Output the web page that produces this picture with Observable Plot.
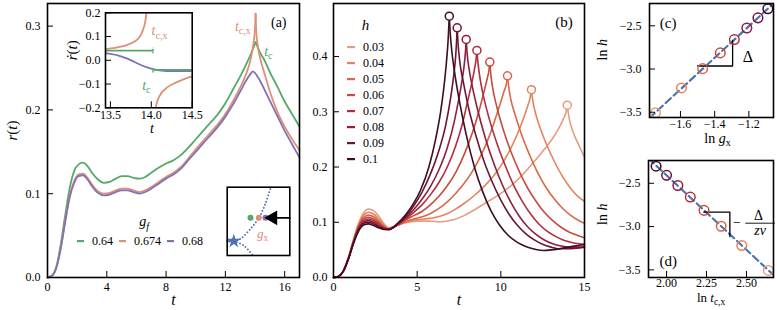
<!DOCTYPE html>
<html><head><meta charset="utf-8">
<script src="https://cdn.jsdelivr.net/npm/d3@7"></script>
<script src="https://cdn.jsdelivr.net/npm/@observablehq/plot@0.6"></script>
<style>
body{margin:0;background:#fff;}
#fig{position:relative;width:777px;height:310px;overflow:hidden;font-family:'Liberation Serif',serif;}
#fig > *{position:absolute;}
#fig svg text{font-family:'Liberation Serif','DejaVu Serif',serif;}
.lga-swatches,.lgb-swatches,#fig div,#fig span{font-family:'Liberation Serif',serif !important;font-size:12px !important;color:#000 !important;}
.lga-swatches,.lgb-swatches{min-height:0 !important;line-height:15px !important;margin:0 !important;}
.lga-swatch{margin-right:6px !important;}
.lga-swatch > svg{margin-right:8px !important;}
.lgb-swatch{padding-bottom:1px !important;}
.lgb-swatch > svg{margin-right:8px !important;}
</style></head><body><div id="fig"></div>
<script>
// ---------- data ----------
const gfLabels = ["0.64","0.674","0.68"];
const gfColors = ["#55a868","#dd8f78","#8172b3"];
const hLabels = ["0.03","0.04","0.05","0.06","0.07","0.08","0.09","0.1"];
const hValues = [0.03,0.04,0.05,0.06,0.07,0.08,0.09,0.1];
const hColors = ["#e59c80","#e3845f","#d96846","#c94a3b","#b02e3d","#8f1f3d","#6a1534","#3d0d22"];
const blueFit = "#4c72b0";

// panel (a): r(t) for g_f
const a064 = [[0,0],[0.3,0.002],[0.6,0.013],[0.9,0.04],[1.2,0.075],[1.5,0.107],[1.8,0.127],[2.1,0.135],[2.4,0.137],[2.7,0.133],[3.0,0.125],[3.4,0.117],[3.8,0.113],[4.2,0.114],[4.6,0.118],[5.0,0.121],[5.4,0.121],[5.8,0.119],[6.2,0.118],[6.6,0.12],[7.0,0.125],[7.5,0.131],[8.0,0.136],[8.5,0.14],[9.0,0.146],[9.5,0.155],[10.0,0.165],[10.5,0.175],[11.0,0.185],[11.5,0.195],[12.0,0.208],[12.5,0.224],[13.0,0.24],[13.5,0.258],[13.8,0.27],[14.04,0.281],[14.3,0.27],[14.7,0.257],[15.0,0.245],[15.5,0.228],[16.0,0.21],[16.5,0.195],[17.0,0.18]];
const a0674 = [[0,0],[0.3,0.002],[0.6,0.012],[0.9,0.036],[1.2,0.068],[1.5,0.097],[1.8,0.115],[2.1,0.123],[2.4,0.124],[2.7,0.119],[3.0,0.111],[3.4,0.103],[3.8,0.1],[4.2,0.101],[4.6,0.104],[5.0,0.106],[5.4,0.106],[5.8,0.104],[6.2,0.102],[6.6,0.104],[7.0,0.108],[7.5,0.114],[8.0,0.12],[8.5,0.125],[9.0,0.132],[9.5,0.142],[10.0,0.153],[10.5,0.163],[11.0,0.173],[11.5,0.183],[12.0,0.195],[12.5,0.21],[13.0,0.227],[13.4,0.243],[13.7,0.26],[13.9,0.28],[14.0,0.297],[14.04,0.315],[14.08,0.295],[14.2,0.275],[14.4,0.258],[14.7,0.24],[15.0,0.222],[15.5,0.198],[16.0,0.18],[16.5,0.165],[17.0,0.152]];
const a068 = [[0,0],[0.3,0.002],[0.6,0.012],[0.9,0.035],[1.2,0.067],[1.5,0.096],[1.8,0.113],[2.1,0.121],[2.4,0.122],[2.7,0.117],[3.0,0.109],[3.4,0.101],[3.8,0.098],[4.2,0.099],[4.6,0.102],[5.0,0.104],[5.4,0.104],[5.8,0.102],[6.2,0.1],[6.6,0.102],[7.0,0.106],[7.5,0.112],[8.0,0.118],[8.5,0.123],[9.0,0.13],[9.5,0.14],[10.0,0.15],[10.5,0.16],[11.0,0.17],[11.5,0.18],[12.0,0.192],[12.5,0.206],[13.0,0.222],[13.4,0.235],[13.7,0.243],[13.85,0.246],[14.0,0.244],[14.3,0.236],[14.7,0.222],[15.0,0.211],[15.5,0.193],[16.0,0.175],[16.5,0.159],[17.0,0.143]];
const aXTicks = [0,4,8,12,16];
const aYTicks = [0,0.1,0.2,0.3];

// panel (a) inset: dr/dt
const iSalmonA = [[13.44,0.047],[13.5,0.05],[13.6,0.055],[13.7,0.064],[13.8,0.08],[13.85,0.095],[13.88,0.112],[13.91,0.14],[13.93,0.17],[13.94,0.2],[13.95,0.23]];
const iSalmonB = [[14.045,-0.23],[14.055,-0.2],[14.07,-0.176],[14.11,-0.145],[14.2,-0.113],[14.3,-0.094],[14.4,-0.079],[14.5,-0.068]];
const iGreenA = [[13.44,0.041],[14.02,0.041]];
const iGreenB = [[14.02,-0.04],[14.5,-0.04]];
const iGreenMarks = [[14.02,0.028,0.054],[14.02,-0.053,-0.027]];
const iPurple = [[13.44,0.03],[13.5,0.027],[13.6,0.02],[13.7,0.008],[13.8,-0.008],[13.9,-0.024],[14.0,-0.035],[14.1,-0.042],[14.2,-0.045],[14.5,-0.045]];
const iXTicks = [13.5,14.0,14.5];
const iYTicks = [-0.2,-0.1,0,0.1,0.2];

// panel (a) schematic inset (unit box)
const schUpper = [[0.105,0.21],[0.212,0.245],[0.372,0.39],[0.505,0.55],[0.61,0.757],[0.69,0.977],[0.705,1.0]];
const schLower = [[0.105,0.21],[0.265,0.146],[0.4,0.01]];
const schDots = [[0.372,0.552],[0.505,0.552],[0.612,0.552]];
const schStar = [[0.105,0.21]];
const schArrow = [[0.74,0.552],[1.0,0.552]];
const schArrowHead = [[0.73,0.552]];
const schGray = [[0,0.21],[0.075,0.21]];
const schLabel = [{x:0.565,y:0.32,s:"*g*_{x}"}];

// panel (b): r(t) for h
const b003 = [[0,0],[0.3,0.002],[0.6,0.013],[0.9,0.037],[1.2,0.069],[1.5,0.098],[1.8,0.117],[2.1,0.124],[2.4,0.121],[2.7,0.111],[3.0,0.098],[3.3,0.09],[3.8,0.094],[4.3,0.099],[5.0,0.102],[5.7,0.102],[6.4,0.101],[7.1,0.104],[7.8,0.112],[8.5,0.124],[9.2,0.137],[9.9,0.15],[10.6,0.166],[11.3,0.186],[12.0,0.21],[12.6,0.232],[13.1,0.252],[13.5,0.272],[13.75,0.288],[13.9,0.3],[13.97,0.312],[14.05,0.294],[14.2,0.274],[14.4,0.257],[14.7,0.237],[15.0,0.218]];
const b004 = [[0,0],[0.3,0.002],[0.6,0.013],[0.9,0.037],[1.2,0.068],[1.5,0.096],[1.8,0.113],[2.1,0.118],[2.4,0.115],[2.7,0.106],[3.0,0.095],[3.3,0.089],[3.8,0.094],[4.3,0.1],[4.8,0.104],[5.4,0.106],[6.0,0.108],[6.6,0.113],[7.2,0.122],[7.8,0.134],[8.4,0.148],[9.0,0.165],[9.6,0.185],[10.2,0.212],[10.7,0.24],[11.1,0.268],[11.4,0.292],[11.6,0.31],[11.75,0.325],[11.83,0.34],[11.9,0.322],[12.05,0.3],[12.3,0.275],[12.7,0.243],[13.2,0.21],[13.7,0.182],[14.2,0.16],[14.6,0.147],[15.0,0.138]];
const b005 = [[0,0],[0.3,0.002],[0.6,0.013],[0.9,0.036],[1.2,0.067],[1.5,0.094],[1.8,0.109],[2.1,0.113],[2.4,0.11],[2.7,0.102],[3.0,0.093],[3.3,0.088],[3.8,0.094],[4.3,0.101],[4.8,0.106],[5.3,0.11],[5.8,0.116],[6.3,0.125],[6.8,0.137],[7.3,0.152],[7.8,0.17],[8.3,0.192],[8.8,0.22],[9.3,0.255],[9.7,0.29],[10.0,0.318],[10.2,0.338],[10.33,0.35],[10.4,0.365],[10.47,0.345],[10.6,0.322],[10.85,0.295],[11.2,0.262],[11.7,0.223],[12.2,0.19],[12.7,0.163],[13.2,0.142],[13.7,0.125],[14.2,0.112],[14.6,0.104],[15.0,0.098]];
const b006 = [[0,0],[0.3,0.002],[0.6,0.013],[0.9,0.036],[1.2,0.066],[1.5,0.092],[1.8,0.106],[2.1,0.109],[2.4,0.106],[2.7,0.099],[3.0,0.091],[3.3,0.087],[3.8,0.095],[4.3,0.104],[4.8,0.112],[5.3,0.12],[5.8,0.132],[6.3,0.147],[6.8,0.166],[7.3,0.19],[7.8,0.222],[8.3,0.262],[8.7,0.302],[9.0,0.337],[9.2,0.362],[9.29,0.375],[9.34,0.39],[9.4,0.368],[9.52,0.342],[9.75,0.31],[10.1,0.272],[10.6,0.228],[11.1,0.192],[11.6,0.162],[12.1,0.138],[12.6,0.118],[13.1,0.103],[13.6,0.091],[14.1,0.082],[14.6,0.076],[15.0,0.072]];
const b007 = [[0,0],[0.3,0.002],[0.6,0.012],[0.9,0.035],[1.2,0.065],[1.5,0.09],[1.8,0.103],[2.1,0.106],[2.4,0.103],[2.7,0.097],[3.0,0.09],[3.3,0.087],[3.8,0.095],[4.3,0.106],[4.8,0.118],[5.3,0.132],[5.8,0.15],[6.3,0.172],[6.8,0.2],[7.3,0.238],[7.7,0.278],[8.0,0.317],[8.25,0.35],[8.43,0.378],[8.52,0.395],[8.57,0.411],[8.63,0.39],[8.75,0.362],[8.95,0.33],[9.3,0.288],[9.8,0.24],[10.3,0.2],[10.8,0.165],[11.3,0.137],[11.8,0.114],[12.3,0.096],[12.8,0.083],[13.3,0.074],[13.8,0.067],[14.3,0.063],[15.0,0.06]];
const b008 = [[0,0],[0.3,0.002],[0.6,0.012],[0.9,0.035],[1.2,0.064],[1.5,0.088],[1.8,0.1],[2.1,0.103],[2.4,0.1],[2.7,0.094],[3.0,0.089],[3.3,0.087],[3.8,0.096],[4.3,0.108],[4.8,0.123],[5.3,0.142],[5.8,0.165],[6.3,0.195],[6.8,0.235],[7.2,0.28],[7.5,0.325],[7.7,0.36],[7.83,0.39],[7.89,0.41],[7.93,0.431],[7.98,0.408],[8.1,0.378],[8.3,0.345],[8.6,0.305],[9.1,0.25],[9.6,0.205],[10.1,0.167],[10.6,0.136],[11.1,0.111],[11.6,0.092],[12.1,0.078],[12.6,0.068],[13.1,0.061],[13.6,0.057],[14.1,0.055],[14.6,0.055],[15.0,0.056]];
const b009 = [[0,0],[0.3,0.002],[0.6,0.012],[0.9,0.034],[1.2,0.063],[1.5,0.086],[1.8,0.098],[2.1,0.1],[2.4,0.097],[2.7,0.092],[3.0,0.088],[3.3,0.087],[3.8,0.096],[4.3,0.11],[4.8,0.13],[5.3,0.155],[5.8,0.188],[6.3,0.23],[6.7,0.275],[7.0,0.325],[7.2,0.37],[7.3,0.4],[7.35,0.425],[7.39,0.452],[7.44,0.425],[7.55,0.39],[7.75,0.355],[8.05,0.31],[8.5,0.258],[9.0,0.21],[9.5,0.172],[10.0,0.14],[10.5,0.114],[11.0,0.094],[11.5,0.079],[12.0,0.068],[12.5,0.06],[13.0,0.055],[13.5,0.052],[14.0,0.052],[14.5,0.053],[15.0,0.055]];
const b010 = [[0,0],[0.3,0.002],[0.6,0.012],[0.9,0.034],[1.2,0.062],[1.5,0.084],[1.8,0.095],[2.1,0.097],[2.4,0.094],[2.7,0.09],[3.0,0.087],[3.3,0.087],[3.8,0.097],[4.3,0.113],[4.8,0.135],[5.2,0.158],[5.7,0.2],[6.1,0.25],[6.4,0.3],[6.6,0.345],[6.75,0.39],[6.85,0.43],[6.92,0.473],[6.97,0.445],[7.07,0.41],[7.22,0.375],[7.52,0.32],[7.92,0.26],[8.42,0.2],[8.92,0.155],[9.42,0.12],[9.92,0.095],[10.42,0.077],[10.92,0.065],[11.42,0.057],[11.92,0.052],[12.52,0.049],[13.02,0.05],[14.02,0.055],[15.0,0.06]];
const bCurves = [b003,b004,b005,b006,b007,b008,b009,b010];
const bXTicks = [0,5,10,15];
const bYTicks = [0,0.1,0.2,0.3,0.4];

// panel (c): ln g_x for each h
const lnGx = [-1.746,-1.594,-1.470,-1.367,-1.285,-1.212,-1.147,-1.089];
const cXTicks = [-1.6,-1.4,-1.2];
const cYTicks = [-3.5,-3.0,-2.5];
const triC = [[-1.50,-2.965],[-1.295,-2.965],[-1.295,-2.67]];
const dXTicks = [2.0,2.25,2.5];
const dYTicks = [-3.5,-3.0,-2.5];
const triD = [[2.233,-2.834],[2.396,-2.834],[2.396,-3.115]];

// ---------- helpers ----------
const FONT = "'Liberation Serif','DejaVu Serif',serif";
const fig = document.getElementById("fig");
function place(el, left, top){ el.style.position="absolute"; el.style.left=left+"px"; el.style.top=top+"px"; fig.appendChild(el); return el; }
function inTicks(xt, yt, fw, fh, len){ return [
  Plot.tickX(xt,{x:d=>d, insetTop: fh-len, stroke:"black", strokeWidth:1}),
  Plot.tickY(yt,{y:d=>d, insetRight: fw-len, stroke:"black", strokeWidth:1})]; }
const baseStyle = {fontFamily:FONT, fontSize:"12px", color:"black", background:"transparent", overflow:"visible"};
function richify(root){
  root.querySelectorAll("text").forEach(t=>{
    const s=t.textContent;
    if(!/[_*]/.test(s)) return;
    const fs=parseFloat(getComputedStyle(t).fontSize)||12;
    const runs=[]; let it=false, sub=false, buf="";
    const push=()=>{ if(buf) runs.push({s:buf,it,sub}); buf=""; };
    for(let i=0;i<s.length;i++){
      const c=s[i];
      if(c==="*"){push(); it=!it; continue;}
      if(c==="_"&&s[i+1]==="{"){push(); sub=true; i++; continue;}
      if(c==="}"&&sub){push(); sub=false; continue;}
      buf+=c;
    }
    push();
    t.textContent="";
    let shifted=false;
    for(const r of runs){
      const ts=document.createElementNS("http://www.w3.org/2000/svg","tspan");
      ts.textContent=r.s;
      ts.setAttribute("font-style", r.it?"italic":"normal");
      if(r.sub){ ts.setAttribute("font-size",(fs*0.72)+"px"); if(!shifted){ts.setAttribute("dy",(fs*0.25)+"px"); shifted=true;} }
      else if(shifted){ ts.setAttribute("dy",(-fs*0.25)+"px"); shifted=false; }
      t.appendChild(ts);
    }
  });
}
function splitAtPeak(arr, key, color, rows){
  const im=d3.maxIndex(arr,d=>d[1]);
  arr.slice(0,im+1).forEach(d=>rows.push({t:d[0],r:d[1],c:color,z:key+"a"}));
  arr.slice(im).forEach(d=>rows.push({t:d[0],r:d[1],c:color,z:key+"b"}));
  return arr[im];
}

// ---------- panel (a) ----------
{
  const W=305,H=310,mL=47,mR=6,mT=3,mB=33, fw=W-mL-mR, fh=H-mT-mB;
  const rows=[];
  splitAtPeak(a064,"g",gfColors[0],rows);
  splitAtPeak(a0674,"s",gfColors[1],rows);
  a068.forEach(d=>rows.push({t:d[0],r:d[1],c:gfColors[2],z:"p"}));
  const ann=[{x:13.18,y:0.300,s:"*t*_{c,x}",c:gfColors[1]},{x:14.9,y:0.270,s:"*t*_{c}",c:gfColors[0]},{x:15.6,y:0.304,s:"(a)",c:"black"},{x:6.52,y:0.0668,s:"*g*_{*f*}",c:"black"}];
  const p=Plot.plot({width:W,height:H,marginLeft:mL,marginRight:mR,marginTop:mT,marginBottom:mB,
    x:{domain:[0,17]}, y:{domain:[0,0.327]}, color:{type:"identity"}, style:baseStyle,
    marks:[
      Plot.line(rows,{x:"t",y:"r",z:"z",stroke:"c",strokeWidth:1.8,curve:"monotone-x"}),
      ...inTicks(aXTicks,aYTicks,fw,fh,6),
      Plot.axisX({ticks:aXTicks,tickSize:0,tickPadding:5,tickFormat:d3.format("d"),label:null}),
      Plot.axisY({ticks:aYTicks,tickSize:0,tickPadding:7,tickFormat:d3.format(".1f"),label:null}),
      Plot.text(ann,{x:"x",y:"y",text:"s",fill:"c",fontSize:14}),
      Plot.text(["*r*(*t*)"],{frameAnchor:"left",dx:-35,rotate:-90,fontSize:15,text:d=>d}),
      Plot.text(["*t*"],{frameAnchor:"bottom",dy:27,fontSize:16,text:d=>d}),
      Plot.frame({stroke:"black",strokeWidth:1.6})
    ]});
  place(p,0,0); richify(p);
}
// inset dr/dt
{
  const W=140,H=135,mL=45,mR=8.3,mT=12.3,mB=27.7, fw=W-mL-mR, fh=H-mT-mB;
  const rows=[];
  iSalmonA.forEach(d=>rows.push({t:d[0],v:d[1],c:gfColors[1],z:"sa"}));
  iSalmonB.forEach(d=>rows.push({t:d[0],v:d[1],c:gfColors[1],z:"sb"}));
  iPurple.forEach(d=>rows.push({t:d[0],v:d[1],c:gfColors[2],z:"p"}));
  iGreenA.forEach(d=>rows.push({t:d[0],v:d[1],c:gfColors[0],z:"ga"}));
  iGreenB.forEach(d=>rows.push({t:d[0],v:d[1],c:gfColors[0],z:"gb"}));
  const ann=[{x:14.1,y:0.125,s:"*t*_{c,x}",c:gfColors[1]},{x:13.94,y:-0.106,s:"*t*_{c}",c:gfColors[0]}];
  const p=Plot.plot({width:W,height:H,marginLeft:mL,marginRight:mR,marginTop:mT,marginBottom:mB,
    x:{domain:[13.44,14.5]}, y:{domain:[-0.2,0.2]}, color:{type:"identity"}, style:baseStyle,
    marks:[
      Plot.frame({fill:"white"}),
      Plot.line(rows,{x:"t",y:"v",z:"z",stroke:"c",strokeWidth:1.8,curve:"monotone-x",clip:true}),
      Plot.ruleX(iGreenMarks,{x:d=>d[0],y1:d=>d[1],y2:d=>d[2],stroke:gfColors[0],strokeWidth:1.5,strokeDasharray:"1.5,1.5"}),
      ...inTicks(iXTicks,iYTicks,fw,fh,6),
      Plot.axisX({ticks:iXTicks,tickSize:0,tickPadding:3,tickFormat:d3.format(".1f"),label:null}),
      Plot.axisY({ticks:iYTicks,tickSize:0,tickPadding:5,tickFormat:d3.format(".1f"),label:null}),
      Plot.text(ann,{x:"x",y:"y",text:"s",fill:"c",fontSize:14}),
      Plot.text(["*ṙ*(*t*)"],{frameAnchor:"left",dx:-33,rotate:-90,fontSize:15,text:d=>d}),
      Plot.text(["*t*"],{frameAnchor:"bottom",dx:3,dy:25,fontSize:14,text:d=>d}),
      Plot.frame({stroke:"black",strokeWidth:1.6})
    ]});
  place(p,60,0); richify(p);
}
// schematic inset
{
  const W=75,H=80;
  const p=Plot.plot({width:W,height:H,marginLeft:6.7,marginRight:5.7,marginTop:6.7,marginBottom:5,
    x:{domain:[0,1],axis:null}, y:{domain:[0,1],axis:null}, style:baseStyle,
    marks:[
      Plot.frame({fill:"white"}),
      Plot.line(schGray,{x:d=>d[0],y:d=>d[1],stroke:"#777",strokeWidth:2}),
      Plot.line(schUpper,{x:d=>d[0],y:d=>d[1],stroke:blueFit,strokeWidth:1.8,strokeDasharray:"0.1,3.2",strokeLinecap:"round",curve:"catmull-rom",clip:true}),
      Plot.line(schLower,{x:d=>d[0],y:d=>d[1],stroke:blueFit,strokeWidth:1.8,strokeDasharray:"0.1,3.2",strokeLinecap:"round",curve:"catmull-rom",clip:true}),
      Plot.dot(schStar,{x:d=>d[0],y:d=>d[1],symbol:"star",fill:blueFit,r:4.5}),
      Plot.dot(schDots,{x:d=>d[0],y:d=>d[1],fill:(d,i)=>gfColors[i],r:3,stroke:"none"}),
      Plot.line(schArrow,{x:d=>d[0],y:d=>d[1],stroke:"black",strokeWidth:1.8}),
      Plot.dot(schArrowHead,{x:d=>d[0],y:d=>d[1],symbol:"triangle",rotate:-90,fill:"black",r:5.5}),
      Plot.text(schLabel,{x:"x",y:"y",text:"s",fill:gfColors[1],fontSize:13}),
      Plot.frame({stroke:"black",strokeWidth:1.6})
    ]});
  place(p,220,180); richify(p);
}
// legend (a)
{
  const lg=Plot.legend({color:{type:"ordinal",domain:gfLabels,range:gfColors},legend:"swatches",swatchWidth:7,swatchHeight:2.2,className:"lga",style:{fontFamily:FONT,fontSize:"12px",color:"black"}});
  place(lg,77,234);
}

// ---------- panel (b) ----------
const peaks=[];
{
  const W=290,H=310,mL=33,mR=6,mT=3,mB=33, fw=W-mL-mR, fh=H-mT-mB;
  const rows=[];
  bCurves.forEach((arr,i)=>{ const pk=splitAtPeak(arr,"h"+i,hColors[i],rows); peaks.push({t:pk[0],r:pk[1],c:hColors[i],h:hValues[i]}); });
  const ann=[{x:13.77,y:0.462,s:"(b)"},{x:1.91,y:0.456,s:"*h*"}];
  const p=Plot.plot({width:W,height:H,marginLeft:mL,marginRight:mR,marginTop:mT,marginBottom:mB,
    x:{domain:[0,15]}, y:{domain:[0,0.496]}, color:{type:"identity"}, style:baseStyle,
    marks:[
      Plot.line(rows,{x:"t",y:"r",z:"z",stroke:"c",strokeWidth:1.6,curve:"monotone-x"}),
      Plot.dot(peaks,{x:"t",y:"r",stroke:"c",fill:"white",r:4,strokeWidth:1.5}),
      ...inTicks(bXTicks,bYTicks,fw,fh,6),
      Plot.axisX({ticks:bXTicks,tickSize:0,tickPadding:5,tickFormat:d3.format("d"),label:null}),
      Plot.axisY({ticks:bYTicks,tickSize:0,tickPadding:6,tickFormat:d3.format(".1f"),label:null}),
      Plot.text(ann,{x:"x",y:"y",text:"s",fill:"black",fontSize:15}),
      Plot.text(["*t*"],{frameAnchor:"bottom",dy:27,fontSize:16,text:d=>d}),
      Plot.frame({stroke:"black",strokeWidth:1.6})
    ]});
  place(p,300,0); richify(p);
  const lg=Plot.legend({color:{type:"ordinal",domain:hLabels,range:hColors},legend:"swatches",columns:1,swatchWidth:8,swatchHeight:2.2,className:"lgb",style:{fontFamily:FONT,fontSize:"12px",color:"black"}});
  place(lg,347,40);
}

// ---------- fits ----------
function fit(xs, ys){
  const mx=d3.mean(xs), my=d3.mean(ys);
  const b=d3.sum(xs,(x,i)=>(x-mx)*(ys[i]-my))/d3.sum(xs,x=>(x-mx)*(x-mx));
  return {a:my-b*mx,b};
}
const lnH = hValues.map(Math.log);

// ---------- panel (c) ----------
{
  const W=182,H=150,mL=54,mR=4,mT=3,mB=33, fw=W-mL-mR, fh=H-mT-mB;
  const xd=[-1.781,-1.056], yd=[-3.561,-2.242];
  const f=fit(lnGx,lnH);
  const fitLine=xd.map(x=>({x,y:f.a+f.b*x}));
  const pts=lnGx.map((x,i)=>({x,y:lnH[i],c:hColors[i]}));
  const ann=[{x:-1.672,y:-2.467,s:"(c)",fs:15},{x:-1.206,y:-2.863,s:"Δ",fs:16}];
  const p=Plot.plot({width:W,height:H,marginLeft:mL,marginRight:mR,marginTop:mT,marginBottom:mB,
    x:{domain:xd}, y:{domain:yd}, color:{type:"identity"}, style:baseStyle,
    marks:[
      Plot.line(fitLine,{x:"x",y:"y",stroke:blueFit,strokeWidth:2.2,strokeDasharray:"7,4",clip:true}),
      Plot.line(triC,{x:d=>d[0],y:d=>d[1],stroke:"black",strokeWidth:1.3}),
      Plot.dot(pts,{x:"x",y:"y",stroke:"c",fill:"none",r:4.8,strokeWidth:1.5}),
      ...inTicks(cXTicks,cYTicks,fw,fh,6),
      Plot.axisX({ticks:cXTicks,tickSize:0,tickPadding:2,tickFormat:d3.format(".1f"),label:null}),
      Plot.axisY({ticks:cYTicks,tickSize:0,tickPadding:8,tickFormat:d3.format(".1f"),label:null}),
      Plot.text(ann,{x:"x",y:"y",text:"s",fill:"black",fontSize:d=>d.fs}),
      Plot.text(["ln *h*"],{frameAnchor:"left",dx:-47,rotate:-90,fontSize:14,text:d=>d}),
      Plot.text(["ln *g*_{x}"],{frameAnchor:"bottom",dx:6,dy:25,fontSize:14,text:d=>d}),
      Plot.frame({stroke:"black",strokeWidth:1.6})
    ]});
  place(p,595,0); richify(p);
}

// ---------- panel (d) ----------
{
  const W=182,H=160,mL=53,mR=4,mT=10,mB=33, fw=W-mL-mR, fh=H-mT-mB;
  const xd=[1.887,2.669], yd=[-3.588,-2.237];
  const lnTc=peaks.map(p=>Math.log(p.t));
  const f=fit(lnTc,lnH);
  const fitLine=xd.map(x=>({x,y:f.a+f.b*x}));
  const pts=lnTc.map((x,i)=>({x,y:lnH[i],c:hColors[i]}));
  const ann=[{x:2.011,y:-3.395,s:"(d)",fs:15},{x:2.44,y:-2.950,s:"−",fs:14},{x:2.575,y:-2.872,s:"Δ",fs:14},{x:2.585,y:-3.045,s:"*zν*",fs:14}];
  const bar=[[2.495,-2.961],[2.675,-2.961]];
  const p=Plot.plot({width:W,height:H,marginLeft:mL,marginRight:mR,marginTop:mT,marginBottom:mB,
    x:{domain:xd}, y:{domain:yd}, color:{type:"identity"}, style:baseStyle,
    marks:[
      Plot.line(fitLine,{x:"x",y:"y",stroke:blueFit,strokeWidth:2.2,strokeDasharray:"7,4",clip:true}),
      Plot.line(triD,{x:d=>d[0],y:d=>d[1],stroke:"black",strokeWidth:1.3}),
      Plot.dot(pts,{x:"x",y:"y",stroke:"c",fill:"none",r:4.8,strokeWidth:1.5}),
      ...inTicks(dXTicks,dYTicks,fw,fh,6),
      Plot.axisX({ticks:dXTicks,tickSize:0,tickPadding:1,tickFormat:d3.format(".2f"),label:null}),
      Plot.axisY({ticks:dYTicks,tickSize:0,tickPadding:8,tickFormat:d3.format(".1f"),label:null}),
      Plot.text(ann,{x:"x",y:"y",text:"s",fill:"black",fontSize:d=>d.fs}),
      Plot.line(bar,{x:d=>d[0],y:d=>d[1],stroke:"black",strokeWidth:0.9}),
      Plot.text(["ln *h*"],{frameAnchor:"left",dx:-46,dy:6,rotate:-90,fontSize:14,text:d=>d}),
      Plot.text(["ln *t*_{c,x}"],{frameAnchor:"bottom",dy:24,fontSize:13,text:d=>d}),
      Plot.frame({stroke:"black",strokeWidth:1.6})
    ]});
  place(p,595,150); richify(p);
}
</script></body></html>
